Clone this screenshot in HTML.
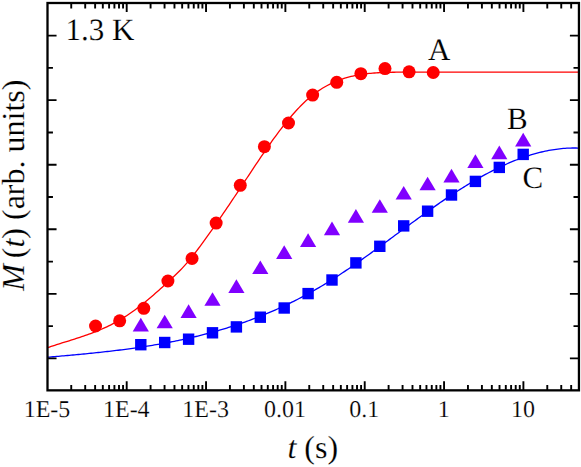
<!DOCTYPE html>
<html><head><meta charset="utf-8"><title>M(t) relaxation</title>
<style>
html,body{margin:0;padding:0;background:#fff;}
body{width:581px;height:467px;overflow:hidden;font-family:"Liberation Serif",serif;}
svg{display:block;}
text{font-family:"Liberation Serif",serif;fill:#000;text-rendering:geometricPrecision;stroke:#fff;stroke-width:0.18px;paint-order:fill stroke;}
</style></head><body>
<svg width="581" height="467" viewBox="0 0 581 467">
<rect x="0" y="0" width="581" height="467" fill="#ffffff"/>
<clipPath id="pc"><rect x="47.5" y="3.0" width="531.45" height="387.35"/></clipPath>
<g clip-path="url(#pc)" fill="none" stroke-width="1.3" stroke-linejoin="round">
<path d="M44.00,348.86 L45.80,348.23 L47.59,347.62 L49.39,347.01 L51.18,346.42 L52.98,345.83 L54.78,345.26 L56.57,344.68 L58.37,344.12 L60.16,343.55 L61.96,342.99 L63.76,342.43 L65.55,341.88 L67.35,341.32 L69.14,340.76 L70.94,340.20 L72.74,339.63 L74.53,339.06 L76.33,338.48 L78.12,337.90 L79.92,337.31 L81.72,336.71 L83.51,336.10 L85.31,335.48 L87.10,334.85 L88.90,334.21 L90.70,333.55 L92.49,332.87 L94.29,332.18 L96.08,331.47 L97.88,330.75 L99.68,330.00 L101.47,329.24 L103.27,328.45 L105.06,327.64 L106.86,326.80 L108.66,325.94 L110.45,325.06 L112.25,324.14 L114.04,323.20 L115.84,322.23 L117.64,321.23 L119.43,320.20 L121.23,319.14 L123.02,318.04 L124.82,316.91 L126.62,315.74 L128.41,314.54 L130.21,313.31 L132.00,312.05 L133.80,310.75 L135.60,309.43 L137.39,308.08 L139.19,306.71 L140.98,305.31 L142.78,303.88 L144.58,302.43 L146.37,300.96 L148.17,299.47 L149.96,297.96 L151.76,296.44 L153.56,294.89 L155.35,293.33 L157.15,291.75 L158.94,290.16 L160.74,288.56 L162.54,286.94 L164.33,285.32 L166.13,283.68 L167.92,282.04 L169.72,280.38 L171.52,278.70 L173.31,277.01 L175.11,275.29 L176.90,273.55 L178.70,271.78 L180.49,269.97 L182.29,268.10 L184.09,266.18 L185.88,264.19 L187.68,262.13 L189.47,260.00 L191.27,257.80 L193.07,255.55 L194.86,253.24 L196.66,250.89 L198.45,248.50 L200.25,246.07 L202.05,243.62 L203.84,241.15 L205.64,238.66 L207.43,236.15 L209.23,233.63 L211.03,231.10 L212.82,228.55 L214.62,225.98 L216.41,223.40 L218.21,220.81 L220.01,218.21 L221.80,215.60 L223.60,212.97 L225.39,210.33 L227.19,207.68 L228.99,205.02 L230.78,202.36 L232.58,199.68 L234.37,196.99 L236.17,194.30 L237.97,191.59 L239.76,188.88 L241.56,186.17 L243.35,183.45 L245.15,180.73 L246.95,178.01 L248.74,175.29 L250.54,172.58 L252.33,169.87 L254.13,167.17 L255.93,164.47 L257.72,161.79 L259.52,159.13 L261.31,156.48 L263.11,153.84 L264.91,151.22 L266.70,148.63 L268.50,146.06 L270.29,143.51 L272.09,140.99 L273.89,138.49 L275.68,136.03 L277.48,133.60 L279.27,131.20 L281.07,128.84 L282.87,126.51 L284.66,124.23 L286.46,121.98 L288.25,119.78 L290.05,117.63 L291.85,115.52 L293.64,113.46 L295.44,111.45 L297.23,109.49 L299.03,107.59 L300.83,105.74 L302.62,103.96 L304.42,102.23 L306.21,100.56 L308.01,98.96 L309.81,97.42 L311.60,95.94 L313.40,94.53 L315.19,93.17 L316.99,91.87 L318.79,90.63 L320.58,89.45 L322.38,88.31 L324.17,87.23 L325.97,86.21 L327.77,85.23 L329.56,84.30 L331.36,83.42 L333.15,82.58 L334.95,81.79 L336.75,81.04 L338.54,80.34 L340.34,79.67 L342.13,79.05 L343.93,78.46 L345.73,77.91 L347.52,77.39 L349.32,76.91 L351.11,76.46 L352.91,76.04 L354.71,75.65 L356.50,75.29 L358.30,74.96 L360.09,74.65 L361.89,74.37 L363.69,74.11 L365.48,73.88 L367.28,73.66 L369.07,73.47 L370.87,73.29 L372.67,73.13 L374.46,72.99 L376.26,72.87 L378.05,72.76 L379.85,72.66 L381.65,72.57 L383.44,72.50 L385.24,72.44 L387.03,72.37 L388.83,72.32 L390.63,72.28 L392.42,72.25 L394.22,72.23 L396.01,72.22 L397.81,72.20 L399.61,72.19 L401.40,72.19 L403.20,72.18 L404.99,72.18 L406.79,72.18 L408.59,72.19 L410.38,72.19 L412.18,72.19 L413.97,72.20 L415.77,72.20 L417.57,72.20 L419.36,72.20 L421.16,72.20 L422.95,72.20 L424.75,72.20 L426.55,72.20 L428.34,72.20 L430.14,72.20 L431.93,72.20 L433.73,72.20 L435.53,72.20 L437.32,72.20 L439.12,72.20 L440.91,72.20 L442.71,72.20 L444.51,72.20 L446.30,72.20 L448.10,72.20 L449.89,72.20 L451.69,72.20 L453.48,72.20 L455.28,72.20 L457.08,72.20 L458.87,72.20 L460.67,72.20 L462.46,72.20 L464.26,72.20 L466.06,72.20 L467.85,72.20 L469.65,72.20 L471.44,72.20 L473.24,72.20 L475.04,72.20 L476.83,72.20 L478.63,72.20 L480.42,72.20 L482.22,72.20 L484.02,72.20 L485.81,72.20 L487.61,72.20 L489.40,72.20 L491.20,72.20 L493.00,72.20 L494.79,72.20 L496.59,72.20 L498.38,72.20 L500.18,72.20 L501.98,72.20 L503.77,72.20 L505.57,72.20 L507.36,72.20 L509.16,72.20 L510.96,72.20 L512.75,72.20 L514.55,72.20 L516.34,72.20 L518.14,72.20 L519.94,72.20 L521.73,72.20 L523.53,72.20 L525.32,72.20 L527.12,72.20 L528.92,72.20 L530.71,72.20 L532.51,72.20 L534.30,72.20 L536.10,72.20 L537.90,72.20 L539.69,72.20 L541.49,72.20 L543.28,72.20 L545.08,72.20 L546.88,72.20 L548.67,72.20 L550.47,72.20 L552.26,72.20 L554.06,72.20 L555.86,72.20 L557.65,72.20 L559.45,72.20 L561.24,72.20 L563.04,72.20 L564.84,72.20 L566.63,72.20 L568.43,72.20 L570.22,72.20 L572.02,72.20 L573.82,72.20 L575.61,72.20 L577.41,72.20 L579.20,72.20 L581.00,72.20" stroke="#ff0000"/>
<path d="M44.00,357.51 L45.81,357.36 L47.62,357.20 L49.43,357.05 L51.24,356.90 L53.05,356.75 L54.86,356.59 L56.67,356.44 L58.47,356.28 L60.28,356.12 L62.09,355.97 L63.90,355.81 L65.71,355.65 L67.52,355.49 L69.33,355.33 L71.14,355.16 L72.95,355.00 L74.76,354.83 L76.57,354.66 L78.38,354.50 L80.19,354.33 L82.00,354.15 L83.81,353.98 L85.62,353.80 L87.42,353.62 L89.23,353.44 L91.04,353.26 L92.85,353.08 L94.66,352.89 L96.47,352.70 L98.28,352.51 L100.09,352.32 L101.90,352.12 L103.71,351.92 L105.52,351.72 L107.33,351.52 L109.14,351.31 L110.95,351.10 L112.76,350.89 L114.57,350.67 L116.37,350.45 L118.18,350.23 L119.99,350.00 L121.80,349.77 L123.61,349.54 L125.42,349.30 L127.23,349.06 L129.04,348.82 L130.85,348.57 L132.66,348.32 L134.47,348.06 L136.28,347.80 L138.09,347.54 L139.90,347.27 L141.71,347.00 L143.52,346.72 L145.32,346.44 L147.13,346.16 L148.94,345.87 L150.75,345.57 L152.56,345.27 L154.37,344.97 L156.18,344.66 L157.99,344.35 L159.80,344.03 L161.61,343.71 L163.42,343.38 L165.23,343.05 L167.04,342.71 L168.85,342.36 L170.66,342.01 L172.46,341.66 L174.27,341.30 L176.08,340.93 L177.89,340.56 L179.70,340.18 L181.51,339.79 L183.32,339.40 L185.13,339.01 L186.94,338.60 L188.75,338.20 L190.56,337.78 L192.37,337.36 L194.18,336.93 L195.99,336.50 L197.80,336.06 L199.61,335.61 L201.41,335.16 L203.22,334.70 L205.03,334.23 L206.84,333.75 L208.65,333.27 L210.46,332.78 L212.27,332.29 L214.08,331.78 L215.89,331.27 L217.70,330.76 L219.51,330.23 L221.32,329.70 L223.13,329.16 L224.94,328.61 L226.75,328.05 L228.56,327.49 L230.36,326.92 L232.17,326.34 L233.98,325.75 L235.79,325.15 L237.60,324.55 L239.41,323.93 L241.22,323.31 L243.03,322.68 L244.84,322.04 L246.65,321.40 L248.46,320.74 L250.27,320.08 L252.08,319.40 L253.89,318.72 L255.70,318.03 L257.51,317.33 L259.31,316.62 L261.12,315.90 L262.93,315.17 L264.74,314.44 L266.55,313.69 L268.36,312.93 L270.17,312.17 L271.98,311.39 L273.79,310.61 L275.60,309.81 L277.41,309.01 L279.22,308.19 L281.03,307.37 L282.84,306.53 L284.65,305.69 L286.45,304.83 L288.26,303.96 L290.07,303.09 L291.88,302.20 L293.69,301.30 L295.50,300.39 L297.31,299.47 L299.12,298.54 L300.93,297.60 L302.74,296.65 L304.55,295.69 L306.36,294.71 L308.17,293.73 L309.98,292.73 L311.79,291.73 L313.60,290.71 L315.40,289.67 L317.21,288.63 L319.02,287.58 L320.83,286.51 L322.64,285.44 L324.45,284.35 L326.26,283.24 L328.07,282.13 L329.88,281.01 L331.69,279.87 L333.50,278.72 L335.31,277.56 L337.12,276.40 L338.93,275.22 L340.74,274.03 L342.55,272.83 L344.35,271.62 L346.16,270.41 L347.97,269.18 L349.78,267.95 L351.59,266.71 L353.40,265.46 L355.21,264.21 L357.02,262.94 L358.83,261.67 L360.64,260.40 L362.45,259.12 L364.26,257.83 L366.07,256.54 L367.88,255.24 L369.69,253.93 L371.49,252.63 L373.30,251.31 L375.11,250.00 L376.92,248.68 L378.73,247.35 L380.54,246.03 L382.35,244.70 L384.16,243.37 L385.97,242.04 L387.78,240.70 L389.59,239.36 L391.40,238.03 L393.21,236.69 L395.02,235.35 L396.83,234.01 L398.64,232.67 L400.44,231.33 L402.25,229.99 L404.06,228.66 L405.87,227.32 L407.68,225.99 L409.49,224.65 L411.30,223.32 L413.11,222.00 L414.92,220.67 L416.73,219.35 L418.54,218.03 L420.35,216.72 L422.16,215.41 L423.97,214.10 L425.78,212.80 L427.59,211.50 L429.39,210.21 L431.20,208.93 L433.01,207.65 L434.82,206.37 L436.63,205.11 L438.44,203.85 L440.25,202.59 L442.06,201.35 L443.87,200.11 L445.68,198.88 L447.49,197.66 L449.30,196.45 L451.11,195.24 L452.92,194.05 L454.73,192.86 L456.54,191.69 L458.34,190.52 L460.15,189.37 L461.96,188.23 L463.77,187.09 L465.58,185.97 L467.39,184.86 L469.20,183.76 L471.01,182.67 L472.82,181.60 L474.63,180.53 L476.44,179.48 L478.25,178.44 L480.06,177.42 L481.87,176.41 L483.68,175.41 L485.48,174.42 L487.29,173.45 L489.10,172.50 L490.91,171.55 L492.72,170.62 L494.53,169.71 L496.34,168.81 L498.15,167.93 L499.96,167.06 L501.77,166.21 L503.58,165.38 L505.39,164.56 L507.20,163.76 L509.01,162.97 L510.82,162.21 L512.63,161.46 L514.43,160.72 L516.24,160.01 L518.05,159.31 L519.86,158.63 L521.67,157.97 L523.48,157.33 L525.29,156.71 L527.10,156.10 L528.91,155.52 L530.72,154.96 L532.53,154.41 L534.34,153.89 L536.15,153.39 L537.96,152.90 L539.77,152.44 L541.58,152.00 L543.38,151.58 L545.19,151.19 L547.00,150.81 L548.81,150.46 L550.62,150.13 L552.43,149.82 L554.24,149.54 L556.05,149.28 L557.86,149.04 L559.67,148.82 L561.48,148.63 L563.29,148.47 L565.10,148.32 L566.91,148.21 L568.72,148.11 L570.53,148.05 L572.33,148.01 L574.14,147.99 L575.95,148.00 L577.76,148.03 L579.57,148.10 L581.38,148.18 L583.19,148.30 L585.00,148.44" stroke="#0000ff"/>
</g>
<g fill="#ff0000">
<circle cx="95.55" cy="326.00" r="6.5"/>
<circle cx="119.67" cy="320.80" r="6.5"/>
<circle cx="143.79" cy="308.30" r="6.5"/>
<circle cx="167.91" cy="281.00" r="6.5"/>
<circle cx="192.03" cy="258.50" r="6.5"/>
<circle cx="216.15" cy="223.10" r="6.5"/>
<circle cx="240.27" cy="185.30" r="6.5"/>
<circle cx="264.39" cy="146.70" r="6.5"/>
<circle cx="288.51" cy="123.00" r="6.5"/>
<circle cx="312.63" cy="95.10" r="6.5"/>
<circle cx="336.75" cy="82.30" r="6.5"/>
<circle cx="360.87" cy="73.70" r="6.5"/>
<circle cx="384.99" cy="68.60" r="6.5"/>
<circle cx="409.11" cy="71.80" r="6.5"/>
<circle cx="433.23" cy="72.50" r="6.5"/>
</g>
<g fill="#8000ff">
<path d="M140.80,317.80 L148.90,331.40 L132.70,331.40Z"/>
<path d="M164.70,314.70 L172.80,328.30 L156.60,328.30Z"/>
<path d="M188.60,304.30 L196.70,317.90 L180.50,317.90Z"/>
<path d="M212.50,292.20 L220.60,305.80 L204.40,305.80Z"/>
<path d="M236.40,279.30 L244.50,292.90 L228.30,292.90Z"/>
<path d="M260.30,260.40 L268.40,274.00 L252.20,274.00Z"/>
<path d="M284.20,245.30 L292.30,258.90 L276.10,258.90Z"/>
<path d="M308.10,233.30 L316.20,246.90 L300.00,246.90Z"/>
<path d="M332.00,221.60 L340.10,235.20 L323.90,235.20Z"/>
<path d="M355.90,209.10 L364.00,222.70 L347.80,222.70Z"/>
<path d="M379.80,199.20 L387.90,212.80 L371.70,212.80Z"/>
<path d="M403.70,186.00 L411.80,199.60 L395.60,199.60Z"/>
<path d="M427.60,176.70 L435.70,190.30 L419.50,190.30Z"/>
<path d="M451.50,168.80 L459.60,182.40 L443.40,182.40Z"/>
<path d="M475.40,154.30 L483.50,167.90 L467.30,167.90Z"/>
<path d="M499.30,145.60 L507.40,159.20 L491.20,159.20Z"/>
<path d="M523.20,132.80 L531.30,146.40 L515.10,146.40Z"/>
</g>
<g fill="#0000ff">
<rect x="135.10" y="339.00" width="11.4" height="11.4"/>
<rect x="159.00" y="336.80" width="11.4" height="11.4"/>
<rect x="182.90" y="333.50" width="11.4" height="11.4"/>
<rect x="206.80" y="327.10" width="11.4" height="11.4"/>
<rect x="230.70" y="321.20" width="11.4" height="11.4"/>
<rect x="254.60" y="311.50" width="11.4" height="11.4"/>
<rect x="278.50" y="302.30" width="11.4" height="11.4"/>
<rect x="302.40" y="287.90" width="11.4" height="11.4"/>
<rect x="326.30" y="274.30" width="11.4" height="11.4"/>
<rect x="350.20" y="257.20" width="11.4" height="11.4"/>
<rect x="374.10" y="240.60" width="11.4" height="11.4"/>
<rect x="398.00" y="220.20" width="11.4" height="11.4"/>
<rect x="421.90" y="205.50" width="11.4" height="11.4"/>
<rect x="445.80" y="189.30" width="11.4" height="11.4"/>
<rect x="469.70" y="175.70" width="11.4" height="11.4"/>
<rect x="493.60" y="161.70" width="11.4" height="11.4"/>
<rect x="517.50" y="148.70" width="11.4" height="11.4"/>
</g>
<g stroke="#000" stroke-width="1.9" fill="none">
<path d="M47.5,35.60h9.05 M578.95,35.60h-9.05"/>
<path d="M47.5,100.16h9.05 M578.95,100.16h-9.05"/>
<path d="M47.5,164.72h9.05 M578.95,164.72h-9.05"/>
<path d="M47.5,229.28h9.05 M578.95,229.28h-9.05"/>
<path d="M47.5,293.84h9.05 M578.95,293.84h-9.05"/>
<path d="M47.5,358.40h9.05 M578.95,358.40h-9.05"/>
<path d="M47.5,67.90h5.449999999999999 M578.95,67.90h-5.449999999999999"/>
<path d="M47.5,132.46h5.449999999999999 M578.95,132.46h-5.449999999999999"/>
<path d="M47.5,197.02h5.449999999999999 M578.95,197.02h-5.449999999999999"/>
<path d="M47.5,261.58h5.449999999999999 M578.95,261.58h-5.449999999999999"/>
<path d="M47.5,326.14h5.449999999999999 M578.95,326.14h-5.449999999999999"/>
<path d="M71.24,390.35v-5.449999999999999 M71.24,3.0v5.449999999999999"/>
<path d="M85.21,390.35v-5.449999999999999 M85.21,3.0v5.449999999999999"/>
<path d="M95.13,390.35v-5.449999999999999 M95.13,3.0v5.449999999999999"/>
<path d="M102.82,390.35v-5.449999999999999 M102.82,3.0v5.449999999999999"/>
<path d="M109.10,390.35v-5.449999999999999 M109.10,3.0v5.449999999999999"/>
<path d="M114.41,390.35v-5.449999999999999 M114.41,3.0v5.449999999999999"/>
<path d="M119.01,390.35v-5.449999999999999 M119.01,3.0v5.449999999999999"/>
<path d="M123.07,390.35v-5.449999999999999 M123.07,3.0v5.449999999999999"/>
<path d="M126.70,390.35v-9.05 M126.70,3.0v9.05"/>
<path d="M150.58,390.35v-5.449999999999999 M150.58,3.0v5.449999999999999"/>
<path d="M164.55,390.35v-5.449999999999999 M164.55,3.0v5.449999999999999"/>
<path d="M174.47,390.35v-5.449999999999999 M174.47,3.0v5.449999999999999"/>
<path d="M182.16,390.35v-5.449999999999999 M182.16,3.0v5.449999999999999"/>
<path d="M188.44,390.35v-5.449999999999999 M188.44,3.0v5.449999999999999"/>
<path d="M193.75,390.35v-5.449999999999999 M193.75,3.0v5.449999999999999"/>
<path d="M198.35,390.35v-5.449999999999999 M198.35,3.0v5.449999999999999"/>
<path d="M202.41,390.35v-5.449999999999999 M202.41,3.0v5.449999999999999"/>
<path d="M206.04,390.35v-9.05 M206.04,3.0v9.05"/>
<path d="M229.92,390.35v-5.449999999999999 M229.92,3.0v5.449999999999999"/>
<path d="M243.89,390.35v-5.449999999999999 M243.89,3.0v5.449999999999999"/>
<path d="M253.81,390.35v-5.449999999999999 M253.81,3.0v5.449999999999999"/>
<path d="M261.50,390.35v-5.449999999999999 M261.50,3.0v5.449999999999999"/>
<path d="M267.78,390.35v-5.449999999999999 M267.78,3.0v5.449999999999999"/>
<path d="M273.09,390.35v-5.449999999999999 M273.09,3.0v5.449999999999999"/>
<path d="M277.69,390.35v-5.449999999999999 M277.69,3.0v5.449999999999999"/>
<path d="M281.75,390.35v-5.449999999999999 M281.75,3.0v5.449999999999999"/>
<path d="M285.38,390.35v-9.05 M285.38,3.0v9.05"/>
<path d="M309.26,390.35v-5.449999999999999 M309.26,3.0v5.449999999999999"/>
<path d="M323.23,390.35v-5.449999999999999 M323.23,3.0v5.449999999999999"/>
<path d="M333.15,390.35v-5.449999999999999 M333.15,3.0v5.449999999999999"/>
<path d="M340.84,390.35v-5.449999999999999 M340.84,3.0v5.449999999999999"/>
<path d="M347.12,390.35v-5.449999999999999 M347.12,3.0v5.449999999999999"/>
<path d="M352.43,390.35v-5.449999999999999 M352.43,3.0v5.449999999999999"/>
<path d="M357.03,390.35v-5.449999999999999 M357.03,3.0v5.449999999999999"/>
<path d="M361.09,390.35v-5.449999999999999 M361.09,3.0v5.449999999999999"/>
<path d="M364.72,390.35v-9.05 M364.72,3.0v9.05"/>
<path d="M388.60,390.35v-5.449999999999999 M388.60,3.0v5.449999999999999"/>
<path d="M402.57,390.35v-5.449999999999999 M402.57,3.0v5.449999999999999"/>
<path d="M412.49,390.35v-5.449999999999999 M412.49,3.0v5.449999999999999"/>
<path d="M420.18,390.35v-5.449999999999999 M420.18,3.0v5.449999999999999"/>
<path d="M426.46,390.35v-5.449999999999999 M426.46,3.0v5.449999999999999"/>
<path d="M431.77,390.35v-5.449999999999999 M431.77,3.0v5.449999999999999"/>
<path d="M436.37,390.35v-5.449999999999999 M436.37,3.0v5.449999999999999"/>
<path d="M440.43,390.35v-5.449999999999999 M440.43,3.0v5.449999999999999"/>
<path d="M444.06,390.35v-9.05 M444.06,3.0v9.05"/>
<path d="M467.94,390.35v-5.449999999999999 M467.94,3.0v5.449999999999999"/>
<path d="M481.91,390.35v-5.449999999999999 M481.91,3.0v5.449999999999999"/>
<path d="M491.83,390.35v-5.449999999999999 M491.83,3.0v5.449999999999999"/>
<path d="M499.52,390.35v-5.449999999999999 M499.52,3.0v5.449999999999999"/>
<path d="M505.80,390.35v-5.449999999999999 M505.80,3.0v5.449999999999999"/>
<path d="M511.11,390.35v-5.449999999999999 M511.11,3.0v5.449999999999999"/>
<path d="M515.71,390.35v-5.449999999999999 M515.71,3.0v5.449999999999999"/>
<path d="M519.77,390.35v-5.449999999999999 M519.77,3.0v5.449999999999999"/>
<path d="M523.40,390.35v-9.05 M523.40,3.0v9.05"/>
<path d="M547.28,390.35v-5.449999999999999 M547.28,3.0v5.449999999999999"/>
<path d="M561.25,390.35v-5.449999999999999 M561.25,3.0v5.449999999999999"/>
<path d="M571.17,390.35v-5.449999999999999 M571.17,3.0v5.449999999999999"/>
</g>
<rect x="47.5" y="3.0" width="531.45" height="387.35" fill="none" stroke="#000" stroke-width="2.3"/>
<g font-size="24" text-anchor="middle">
<text x="46.96" y="416.5">1E-5</text>
<text x="126.30" y="416.5">1E-4</text>
<text x="205.64" y="416.5">1E-3</text>
<text x="284.98" y="416.5">0.01</text>
<text x="364.32" y="416.5">0.1</text>
<text x="443.66" y="416.5">1</text>
<text x="523.00" y="416.5">10</text>
</g>
<text x="65.5" y="40" font-size="31">1.3 K</text>
<text x="428" y="59.8" font-size="31">A</text>
<text x="507" y="128.8" font-size="31">B</text>
<text x="522.5" y="188.4" font-size="31">C</text>
<text x="287.4" y="458" font-size="32"><tspan font-style="italic">t</tspan> (s)</text>
<text transform="translate(24,290.7) rotate(-90)" font-size="32" font-style="italic">M</text>
<text transform="translate(24,258.2) rotate(-90)" font-size="32">(<tspan font-style="italic">t</tspan>) (arb. units)</text>
</svg></body></html>
